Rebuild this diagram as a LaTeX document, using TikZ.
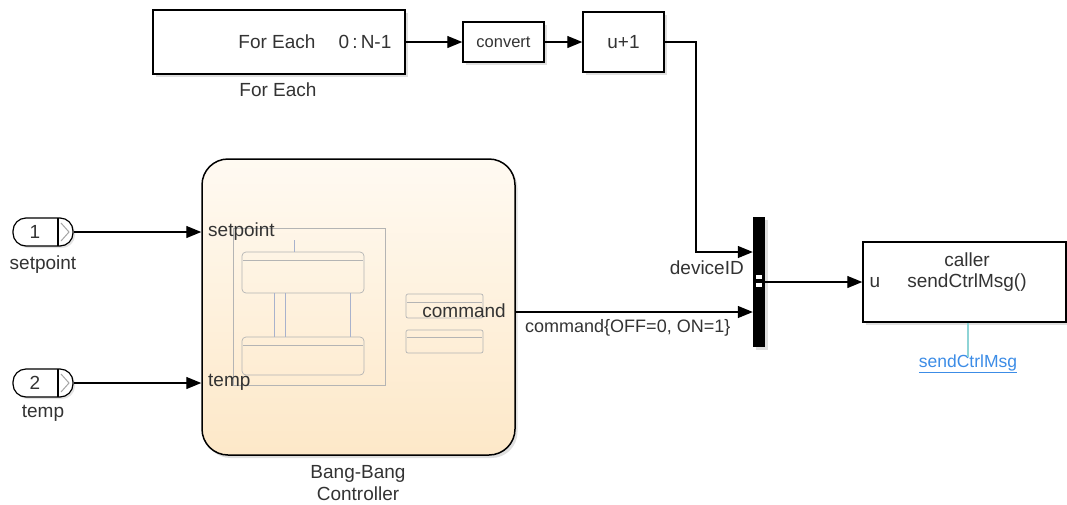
\documentclass[tikz,border=0pt]{standalone}
\usepackage{fontspec}
\setmainfont{Liberation Sans}
\usetikzlibrary{arrows.meta,shadows}
\definecolor{txt}{HTML}{333333}
\definecolor{chtop}{HTML}{FFFAF2}
\definecolor{chbot}{HTML}{FDE8C8}
\definecolor{inner}{HTML}{B4B4B4}
\definecolor{trans}{HTML}{A8B2CC}
\definecolor{linkblue}{HTML}{3C8CE6}
\definecolor{cyanline}{HTML}{8ED4D6}
\begin{document}
\begin{tikzpicture}[x=1pt,y=-1pt,
  txtf/.style={font=\fontsize{19}{21}\selectfont, text=txt, inner sep=0pt},
  block/.style={draw=black, line width=1.5pt, fill=white, inner sep=0pt,
    drop shadow={shadow xshift=2.5pt, shadow yshift=-3pt, opacity=0.25}},
  conn/.style={line width=1.3pt, -{Triangle[length=15pt,width=12pt]}},
  port/.style={draw=black, line width=1.2pt, fill=white, rounded corners=13pt,
    minimum width=60pt, minimum height=28pt, inner sep=0pt,
    drop shadow={shadow xshift=2pt, shadow yshift=-2pt, opacity=0.22}},
  istate/.style={draw=inner, line width=0.7pt, rounded corners=4pt, inner sep=0pt},
]
\useasboundingbox (0,0) rectangle (1067,504);

% For Each block
\node[block, minimum width=252pt, minimum height=64pt] (foreach) at (279,42) {};
\node[txtf] (fe1) at (277,42) {For Each};
\node[txtf] (fe2) at (365,42) {0\,:\,N-1};
\node[txtf] (fel) at (278,90) {For Each};

% convert
\node[block, minimum width=81pt, minimum height=40pt, txtf, font=\fontsize{16.5}{19}\selectfont] (convert) at (503.5,42) {convert};
% u+1
\node[block, minimum width=81pt, minimum height=60pt, txtf] (uplus) at (623.5,42) {u+1};

% Inports
\node[port] (in1) at (43,232) {};
\node[port] (in2) at (43,383) {};
\draw[line width=1.2pt] (58,218) -- (58,246);
\draw[line width=1.2pt] (58,369) -- (58,397);
\draw[gray!70, line width=1pt] (61,223) -- (69,232) -- (61,241);
\draw[gray!70, line width=1pt] (61,374) -- (69,383) -- (61,392);
\node[txtf] (n1) at (35,232) {1};
\node[txtf] (n2) at (35,383) {2};
\node[txtf] (l1) at (43,265) {setpoint};
\node[txtf] (l2) at (43,413) {temp};

% Chart
\node[draw=black, line width=1.5pt, rounded corners=26pt, top color=chtop, bottom color=chbot,
  minimum width=313pt, minimum height=296pt, inner sep=0pt,
  drop shadow={shadow xshift=2.5pt, shadow yshift=-3pt, opacity=0.25}] (chart) at (358.5,307) {};
% chart internals
\draw[inner, line width=0.7pt] (233,228) rectangle (385,385);
\node[istate, minimum width=122pt, minimum height=41pt] (s1) at (303,272.5) {};
\draw[inner, line width=0.6pt] (243,260) -- (363,260);
\node[istate, minimum width=122pt, minimum height=38pt] (s2) at (303,356) {};
\draw[inner, line width=0.6pt] (243,345) -- (363,345);
\draw[trans, line width=0.6pt] (294,240) -- (294,252);
\draw[trans, line width=0.6pt] (274,293) -- (274,337);
\draw[trans, line width=0.6pt] (285,293) -- (285,337);
\draw[trans, line width=0.6pt] (350,293) -- (350,337);
\node[istate, rounded corners=2pt, minimum width=77pt, minimum height=24pt] (b1) at (444.5,306) {};
\draw[inner, line width=0.6pt] (407,302) -- (482,302);
\node[istate, rounded corners=2pt, minimum width=77pt, minimum height=23pt] (b2) at (444.5,341.5) {};
\draw[inner, line width=0.6pt] (407,337) -- (482,337);
\node[txtf, anchor=west] (cs) at (208,232) {setpoint};
\node[txtf, anchor=west] (ct) at (208,382) {temp};
\node[txtf, anchor=east] (cc) at (506,311) {command};
\node[txtf, align=center, font=\fontsize{19}{22}\selectfont] (chl) at (358,483) {Bang-Bang\\Controller};

% Mux
\node[fill=black, minimum width=12pt, minimum height=130pt, inner sep=0pt,
  drop shadow={shadow xshift=2.5pt, shadow yshift=-3pt, opacity=0.25}] (mux) at (759,282) {};
\fill[white] (756,275) rectangle (762,279);
\fill[white] (756,283) rectangle (762,287);

% Caller
\node[block, minimum width=203pt, minimum height=80pt] (caller) at (964.5,282) {};
\node[txtf] (ca1) at (967,260) {caller};
\node[txtf] (ca2) at (967,283) {sendCtrlMsg()};
\node[txtf] (cu) at (875,283) {u};
\node[inner sep=0pt, font=\fontsize{17.5}{20}\selectfont, text=linkblue] (link) at (968,364) {\underline{sendCtrlMsg}};
\draw[cyanline, line width=1.5pt] (link.north |- caller.south) -- ([yshift=-2pt]link.north);

% Connectors
\draw[conn] (foreach.east) -- (convert.west);
\draw[conn] (convert.east) -- (uplus.west);
\coordinate (tap) at (696,252);
\coordinate (cmdy) at (0,312);
\draw[conn] (uplus.east) -| (tap) -- (tap -| mux.west);
\draw[conn] (chart.east |- cmdy) -- (mux.west |- cmdy);
\draw[conn] (in1.east) -- (chart.west |- in1);
\draw[conn] (in2.east) -- (chart.west |- in2);
\draw[conn] (mux.east) -- (caller.west);
\node[txtf, anchor=east] (dl) at (744,268) {deviceID};
\node[txtf, anchor=west, font=\fontsize{18}{21}\selectfont] (cl) at (525,328) {command\{OFF=0, ON=1\}};
\end{tikzpicture}
\end{document}
